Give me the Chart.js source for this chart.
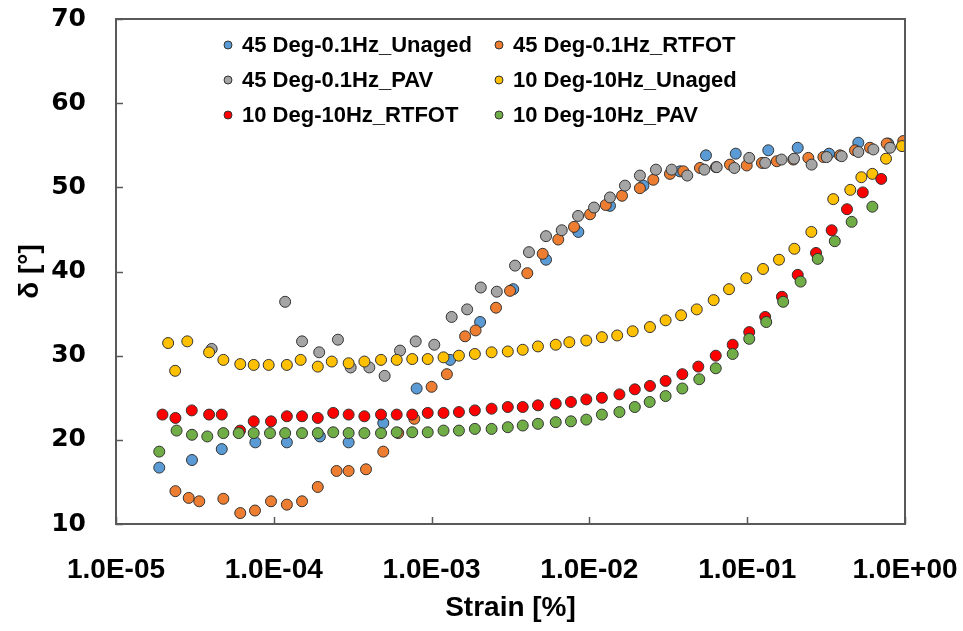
<!DOCTYPE html>
<html>
<head>
<meta charset="utf-8">
<script src="https://cdn.jsdelivr.net/npm/chart.js@4/dist/chart.umd.min.js"></script>
<style>
  html, body { margin: 0; padding: 0; background: #fff; }
  #result-chart { display: block; }
</style>
</head>
<body>
<canvas id="result-chart" width="963" height="631"></canvas>
<script>
// series names, in the order Excel stacks them
var seriesLabels = ['45 Deg-0.1Hz_Unaged', '45 Deg-0.1Hz_RTFOT', '45 Deg-0.1Hz_PAV',
                    '10 Deg-10Hz_Unaged', '10 Deg-10Hz_RTFOT', '10 Deg-10Hz_PAV'];
var seriesColors = ['#5B9BD5', '#ED7D31', '#A5A5A5', '#FFC000', '#FF0000', '#70AD47'];

var strainTicks = [1e-5, 1e-4, 1e-3, 1e-2, 1e-1, 1];
var deltaTicks = [10, 20, 30, 40, 50, 60, 70];

// 45 Deg-0.1Hz_Unaged
var unaged45Strain = [1.88e-5, 3.03e-5, 4.68e-5, 7.64e-5, 1.21e-4, 1.96e-4, 2.98e-4, 4.94e-4, 8.04e-4, 1.31e-3,
                      2.03e-3, 3.29e-3, 5.31e-3, 8.51e-3, 1.35e-2, 2.20e-2, 3.75e-2, 5.48e-2, 8.46e-2, 1.36e-1,
                      2.09e-1, 3.30e-1, 5.06e-1, 7.84e-1];
var unaged45Delta = [16.7, 17.6, 18.9, 19.7, 19.7, 20.4, 19.7, 22.0, 26.1, 29.5,
                     34.0, 37.9, 41.4, 44.7, 47.8, 50.2, 51.9, 53.8, 54.0, 54.4,
                     54.7, 54.0, 55.3, 55.2];

// 45 Deg-0.1Hz_RTFOT
var rtfot45Strain = [2.38e-5, 2.89e-5, 3.37e-5, 4.79e-5, 6.13e-5, 7.60e-5, 9.60e-5, 1.21e-4, 1.51e-4, 1.90e-4,
                     2.50e-4, 2.98e-4, 3.84e-4, 4.94e-4, 6.15e-4, 7.77e-4, 1.00e-3, 1.25e-3, 1.63e-3, 1.90e-3,
                     2.56e-3, 3.14e-3, 4.04e-3, 5.06e-3, 6.35e-3, 7.99e-3, 1.01e-2, 1.27e-2, 1.61e-2, 2.09e-2,
                     2.54e-2, 3.24e-2, 3.94e-2, 5.02e-2, 6.34e-2, 7.78e-2, 9.93e-2, 1.24e-1, 1.54e-1, 1.96e-1,
                     2.44e-1, 3.04e-1, 3.87e-1, 4.82e-1, 6.00e-1, 7.66e-1, 9.75e-1];
var rtfot45Delta = [13.9, 13.1, 12.7, 13.0, 11.3, 11.6, 12.7, 12.3, 12.7, 14.4,
                    16.3, 16.3, 16.5, 18.6, 20.8, 22.5, 26.3, 27.8, 32.3, 33.0,
                    35.7, 37.7, 39.8, 42.1, 43.8, 45.3, 46.8, 47.9, 49.0, 49.9,
                    50.9, 51.6, 51.9, 52.3, 52.4, 52.7, 52.6, 52.9, 53.1, 53.3,
                    53.5, 53.6, 53.8, 54.4, 54.7, 55.2, 55.5];

// 45 Deg-0.1Hz_PAV
var pav45Strain = [4.04e-5, 1.18e-4, 1.51e-4, 1.94e-4, 2.55e-4, 3.07e-4, 4.03e-4, 5.04e-4, 6.31e-4, 7.93e-4,
                   1.04e-3, 1.34e-3, 1.68e-3, 2.05e-3, 2.59e-3, 3.38e-3, 4.14e-3, 5.31e-3, 6.68e-3, 8.48e-3,
                   1.07e-2, 1.35e-2, 1.68e-2, 2.09e-2, 2.64e-2, 3.32e-2, 4.17e-2, 5.35e-2, 6.41e-2, 8.29e-2,
                   1.03e-1, 1.30e-1, 1.65e-1, 1.98e-1, 2.56e-1, 3.19e-1, 3.97e-1, 5.06e-1, 6.30e-1, 8.04e-1];
var pav45Delta = [30.8, 36.4, 31.7, 30.4, 31.9, 28.6, 28.6, 27.6, 30.6, 31.7,
                  31.3, 34.6, 35.5, 38.1, 37.6, 40.7, 42.3, 44.2, 44.9, 46.6,
                  47.6, 48.8, 50.2, 51.4, 52.1, 52.1, 51.4, 52.1, 52.4, 52.3,
                  53.5, 52.9, 53.3, 53.4, 52.7, 53.6, 53.7, 54.2, 54.5, 54.7];

// 10 Deg-10Hz_Unaged
var unaged10Strain = [2.14e-5, 2.37e-5, 2.83e-5, 3.89e-5, 4.79e-5, 6.13e-5, 7.46e-5, 9.28e-5, 1.21e-4, 1.48e-4,
                      1.90e-4, 2.33e-4, 2.98e-4, 3.75e-4, 4.78e-4, 6.01e-4, 7.54e-4, 9.45e-4, 1.19e-3, 1.49e-3,
                      1.88e-3, 2.40e-3, 3.04e-3, 3.78e-3, 4.72e-3, 6.12e-3, 7.46e-3, 9.56e-3, 1.20e-2, 1.50e-2,
                      1.88e-2, 2.42e-2, 3.04e-2, 3.81e-2, 4.79e-2, 6.13e-2, 7.67e-2, 9.87e-2, 1.26e-1, 1.59e-1,
                      1.99e-1, 2.55e-1, 3.51e-1, 4.50e-1, 5.29e-1, 6.21e-1, 7.58e-1, 9.57e-1];
var unaged10Delta = [31.5, 28.2, 31.7, 30.4, 29.5, 29.0, 28.9, 28.9, 28.9, 29.5,
                     28.7, 29.3, 29.1, 29.3, 29.5, 29.5, 29.6, 29.6, 29.8, 30.0,
                     30.2, 30.4, 30.5, 30.7, 31.1, 31.3, 31.6, 31.8, 32.2, 32.4,
                     32.9, 33.4, 34.2, 34.8, 35.5, 36.6, 37.9, 39.2, 40.3, 41.4,
                     42.7, 44.7, 48.6, 49.7, 51.2, 51.6, 53.4, 54.9];

// 10 Deg-10Hz_RTFOT
var rtfot10Strain = [1.97e-5, 2.38e-5, 3.02e-5, 3.89e-5, 4.68e-5, 6.11e-5, 7.46e-5, 9.60e-5, 1.21e-4, 1.51e-4,
                     1.90e-4, 2.38e-4, 2.98e-4, 3.75e-4, 4.78e-4, 6.01e-4, 7.54e-4, 9.45e-4, 1.19e-3, 1.49e-3,
                     1.88e-3, 2.40e-3, 3.04e-3, 3.78e-3, 4.72e-3, 6.12e-3, 7.64e-3, 9.56e-3, 1.20e-2, 1.55e-2,
                     1.94e-2, 2.42e-2, 3.04e-2, 3.88e-2, 4.90e-2, 6.32e-2, 8.09e-2, 1.03e-1, 1.30e-1, 1.66e-1,
                     2.09e-1, 2.73e-1, 3.43e-1, 4.29e-1, 5.40e-1, 7.07e-1];
var rtfot10Delta = [23.0, 22.6, 23.5, 23.0, 23.0, 21.1, 22.2, 22.2, 22.8, 22.8,
                    22.6, 23.2, 23.0, 22.8, 23.0, 23.0, 23.0, 23.2, 23.2, 23.3,
                    23.5, 23.7, 23.9, 23.9, 24.1, 24.3, 24.5, 24.8, 25.0, 25.4,
                    26.0, 26.4, 27.0, 27.8, 28.7, 30.0, 31.3, 32.8, 34.6, 37.0,
                    39.6, 42.2, 44.9, 47.4, 49.4, 51.0];

// 10 Deg-10Hz_PAV
var pav10Strain = [1.88e-5, 2.42e-5, 3.03e-5, 3.79e-5, 4.79e-5, 5.99e-5, 7.46e-5, 9.46e-5, 1.18e-4, 1.51e-4,
                   1.90e-4, 2.38e-4, 2.98e-4, 3.75e-4, 4.78e-4, 6.01e-4, 7.54e-4, 9.45e-4, 1.19e-3, 1.49e-3,
                   1.88e-3, 2.40e-3, 3.04e-3, 3.78e-3, 4.72e-3, 6.12e-3, 7.64e-3, 9.56e-3, 1.20e-2, 1.55e-2,
                   1.94e-2, 2.41e-2, 3.04e-2, 3.88e-2, 4.97e-2, 6.32e-2, 8.09e-2, 1.03e-1, 1.32e-1, 1.69e-1,
                   2.18e-1, 2.80e-1, 3.59e-1, 4.59e-1, 6.21e-1];
var pav10Delta = [18.6, 21.1, 20.6, 20.4, 20.8, 20.8, 20.8, 20.8, 20.8, 20.8,
                  20.8, 20.9, 20.8, 20.8, 20.8, 20.9, 20.9, 20.9, 21.1, 21.1,
                  21.3, 21.3, 21.5, 21.7, 21.9, 22.1, 22.2, 22.4, 23.0, 23.3,
                  23.9, 24.5, 25.2, 26.1, 27.2, 28.5, 30.2, 32.0, 34.0, 36.4,
                  38.8, 41.5, 43.6, 45.9, 47.7];

var seriesStrain = [unaged45Strain, rtfot45Strain, pav45Strain, unaged10Strain, rtfot10Strain, pav10Strain];
var seriesDelta = [unaged45Delta, rtfot45Delta, pav45Delta, unaged10Delta, rtfot10Delta, pav10Delta];

function toPoints(xs, ys) {
      var pts = [];
      for (var i = 0; i < xs.length; i++) {
            pts.push({x: xs[i], y: ys[i]});
      }
      return pts;
}

var dataSet = [];
for (var idx = 0; idx < seriesLabels.length; idx++) {
      dataSet.push({
            label: seriesLabels[idx],
            data: toPoints(seriesStrain[idx], seriesDelta[idx]),
            backgroundColor: seriesColors[idx],
            borderColor: '#333333',
            pointBorderColor: '#333333',
            pointBorderWidth: 1,
            pointRadius: 5.5,
            pointHoverRadius: 5.5,
            showLine: false,
            order: seriesLabels.length - idx   // later series on top, like Excel
      });
}

function expLabel(v) {
      var e = Math.round(Math.log10(v));
      var sign = e < 0 ? '-' : '+';
      var a = Math.abs(e);
      return '1.0E' + sign + (a < 10 ? '0' + a : a);
}

// frame, inward tick marks and the two-column legend
var framePlugin = {
      id: 'frame',
      afterDraw: function(chart) {
            var ctx = chart.ctx;
            var area = chart.chartArea;
            var xs = chart.scales.x, ys = chart.scales.y;
            ctx.save();
            ctx.strokeStyle = '#595959';
            ctx.lineWidth = 2;
            ctx.strokeRect(area.left, area.top, area.right - area.left, area.bottom - area.top);
            ctx.beginPath();
            strainTicks.forEach(function(v) {
                  var px = Math.round(xs.getPixelForValue(v)) + 0.5;
                  ctx.moveTo(px, area.bottom);
                  ctx.lineTo(px, area.bottom - 7);
            });
            deltaTicks.forEach(function(v) {
                  var py = Math.round(ys.getPixelForValue(v)) + 0.5;
                  ctx.moveTo(area.left, py);
                  ctx.lineTo(area.left + 7, py);
            });
            ctx.lineWidth = 1.5;
            ctx.stroke();

            var colX = [228, 499];
            var rowY = [45, 80, 115];
            ctx.font = 'bold 22px "Liberation Sans", Arial, sans-serif';
            ctx.textBaseline = 'middle';
            ctx.fillStyle = '#000';
            for (var i = 0; i < seriesLabels.length; i++) {
                  var cx = colX[i % 2], cy = rowY[Math.floor(i / 2)];
                  ctx.beginPath();
                  ctx.arc(cx, cy, 4, 0, Math.PI * 2);
                  ctx.fillStyle = seriesColors[i];
                  ctx.fill();
                  ctx.lineWidth = 1;
                  ctx.strokeStyle = '#333333';
                  ctx.stroke();
                  ctx.fillStyle = '#000';
                  ctx.fillText(seriesLabels[i], cx + 14, cy + 1);
            }
            ctx.restore();
      }
};

var ctx = document.getElementById('result-chart').getContext('2d');
var chart = new Chart(ctx, {
      type: 'scatter',
      data: { datasets: dataSet },
      options: {
            responsive: false,
            animation: false,
            devicePixelRatio: 1,
            layout: { padding: { top: 19, right: 58, bottom: 0, left: 0 } },
            plugins: {
                  legend: { display: false },
                  tooltip: { enabled: false }
            },
            events: [],
            scales: {
                  x: {
                        type: 'logarithmic',
                        position: 'bottom',
                        min: 1e-5,
                        max: 1,
                        grid: { display: false },
                        border: { display: false },
                        afterBuildTicks: function(scale) {
                              scale.ticks = strainTicks.map(function(v) { return {value: v}; });
                        },
                        afterFit: function(scale) {
                              scale.height = 107;
                              scale.paddingLeft = 0;
                              scale.paddingRight = 0;
                        },
                        ticks: {
                              autoSkip: false,
                              maxRotation: 0,
                              padding: 21,
                              color: '#000',
                              font: { family: '"Liberation Sans", Arial, sans-serif', size: 28, weight: 'bold' },
                              callback: function(v) { return expLabel(v); }
                        },
                        title: {
                              display: true,
                              text: 'Strain [%]',
                              color: '#000',
                              font: { family: '"Liberation Sans", Arial, sans-serif', size: 28, weight: 'bold' },
                              padding: { top: 4, bottom: 6 }
                        }
                  },
                  y: {
                        min: 10,
                        max: 70,
                        grid: { display: false },
                        border: { display: false },
                        afterBuildTicks: function(scale) {
                              scale.ticks = deltaTicks.map(function(v) { return {value: v}; });
                        },
                        afterFit: function(scale) {
                              scale.width = 116;
                              scale.paddingTop = 0;
                              scale.paddingBottom = 0;
                        },
                        ticks: {
                              padding: 22,
                              color: '#000',
                              font: { family: '"DejaVu Sans", Verdana, sans-serif', size: 25, weight: 'bold' }
                        },
                        title: {
                              display: true,
                              text: 'δ [°]',
                              color: '#000',
                              font: { family: '"Liberation Sans", Arial, sans-serif', size: 28, weight: 'bold' },
                              padding: { top: 13, bottom: 0 }
                        }
                  }
            }
      },
      plugins: [framePlugin]
});
</script>
</body>
</html>
